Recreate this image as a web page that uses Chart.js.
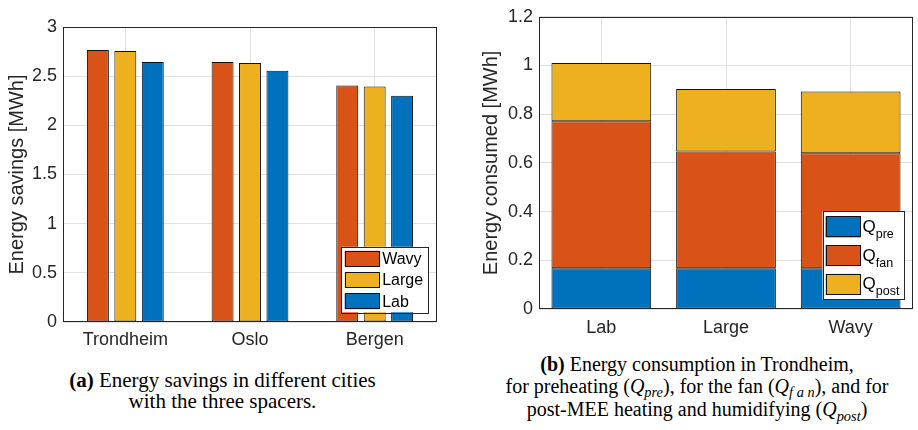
<!DOCTYPE html>
<html>
<head>
<meta charset="utf-8">
<script src="https://cdn.jsdelivr.net/npm/chart.js@4.4.1/dist/chart.umd.min.js"></script>
<style>
  html, body { margin: 0; padding: 0; background: #fff; }
  body { width: 918px; height: 430px; position: relative; overflow: hidden; }
  .panel { position: absolute; }
  .panel canvas { display: block; }
  .cap {
    position: absolute;
    font-family: "Liberation Serif", "Times New Roman", serif;
    font-size: 20px;
    line-height: 21px;
    color: #000;
    text-align: center;
    white-space: nowrap;
  }
  .cap .m { font-style: italic; }
  .cap sub { font-size: 0.72em; vertical-align: baseline; position: relative; top: 0.32em; font-style: italic; }
</style>
</head>
<body>
<div class="panel" style="left:0;top:0;"><canvas id="savings" width="450" height="355"></canvas></div>
<div class="panel" style="left:470px;top:0;"><canvas id="consumed" width="448" height="345"></canvas></div>

<div class="cap" style="left:0;width:445px;top:369.5px;font-size:21px;">
  <b>(a)</b> Energy savings in different cities<br>with the three spacers.
</div>
<div class="cap" style="left:470px;width:454px;top:354px;line-height:21.7px;">
  <b>(b)</b> Energy consumption in Trondheim,<br>
  for preheating (<span class="m">Q</span><sub>pre</sub>), for the fan (<span class="m">Q</span><sub>f a n</sub>), and for<br>
  post-MEE heating and humidifying (<span class="m">Q</span><sub>post</sub>)
</div>

<script>
// ---- (a) energy savings per city for each spacer [MWh]
const cities = ['Trondheim', 'Oslo', 'Bergen'];
const spacerNames = ['Wavy', 'Large', 'Lab'];
const wavySavings = [2.765, 2.645, 2.405];
const largeSavings = [2.755, 2.635, 2.395];
const labSavings = [2.645, 2.555, 2.300];
const savingsTicks = [0, 0.5, 1, 1.5, 2, 2.5, 3];

// ---- (b) energy consumed in Trondheim per spacer [MWh]
const spacers = ['Lab', 'Large', 'Wavy'];
const termNames = ['Q_pre', 'Q_fan', 'Q_post'];
const qPre = [0.167, 0.167, 0.167];
const qFan = [0.604, 0.480, 0.473];
const qPost = [0.239, 0.257, 0.253];
const consumedTicks = [0, 0.2, 0.4, 0.6, 0.8, 1, 1.2];

const BLUE = '#0072BD', ORANGE = '#D95319', YELLOW = '#EDB120';
const INK = '#262626', GRID = '#e1e1e1', EDGE = '#111111';
const SANS = '"Liberation Sans", Arial, Helvetica, sans-serif';

// dark frame around the plotting area
const axesBox = {
  id: 'axesBox',
  afterDatasetsDraw(chart) {
    const { ctx, chartArea: a } = chart;
    ctx.save();
    ctx.strokeStyle = INK;
    ctx.lineWidth = 1;
    ctx.strokeRect(Math.round(a.left) + 0.5, Math.round(a.top) + 0.5,
                   Math.round(a.right - a.left) - 1, Math.round(a.bottom - a.top) - 1);
    ctx.restore();
  }
};

// boxed legend in the lower-right corner; "X_sub" labels get a subscript
const boxLegend = {
  id: 'boxLegend',
  afterDraw(chart, args, o) {
    const { ctx, chartArea: a } = chart;
    const x0 = a.right - o.right - o.width;
    const y0 = a.bottom - o.bottom - o.height;
    ctx.save();
    ctx.fillStyle = '#fff';
    ctx.fillRect(x0, y0, o.width, o.height);
    ctx.strokeStyle = INK;
    ctx.lineWidth = 1;
    ctx.strokeRect(Math.round(x0) + 0.5, Math.round(y0) + 0.5, Math.round(o.width), Math.round(o.height));
    chart.data.datasets.forEach((ds, i) => {
      const sx = x0 + o.padX, sy = y0 + o.padTop + i * o.pitch;
      ctx.fillStyle = ds.backgroundColor;
      ctx.fillRect(sx, sy, o.swW, o.swH);
      ctx.strokeStyle = EDGE;
      ctx.strokeRect(Math.round(sx) + 0.5, Math.round(sy) + 0.5, Math.round(o.swW) - 1, Math.round(o.swH) - 1);
      const [main, sub] = ds.label.split('_');
      const tx = sx + o.swW + o.gap, cy = sy + o.swH / 2;
      ctx.fillStyle = '#000';
      ctx.textAlign = 'left';
      if (sub) {
        ctx.textBaseline = 'alphabetic';
        ctx.font = o.font + 'px ' + SANS;
        ctx.fillText(main, tx, cy + o.mainDrop);
        const w = ctx.measureText(main).width;
        ctx.font = o.subFont + 'px ' + SANS;
        ctx.fillText(sub, tx + w, cy + o.subDrop);
      } else {
        ctx.textBaseline = 'middle';
        ctx.font = o.font + 'px ' + SANS;
        ctx.fillText(main, tx, cy + 1);
      }
    });
    ctx.restore();
  }
};

Chart.defaults.font.family = SANS;
Chart.defaults.color = INK;

function yAxis(ticks, max, title, width, titlePad) {
  return {
    min: 0, max: max,
    afterBuildTicks: s => { s.ticks = ticks.map(v => ({ value: v })); },
    afterFit: s => { s.width = width; },
    grid: { color: GRID, drawTicks: false, lineWidth: 1 },
    border: { display: false },
    ticks: { padding: 6, font: { size: 18 }, color: INK, callback: v => String(v) },
    title: { display: true, text: title, color: INK, font: { size: 20 }, padding: { top: titlePad, bottom: 0 } }
  };
}
function xAxis(height, pad, stacked) {
  return {
    stacked: stacked,
    offset: true,
    afterFit: s => { s.height = height; },
    grid: { color: GRID, drawTicks: false, offset: false, lineWidth: 1 },
    border: { display: false },
    ticks: { padding: pad, font: { size: 18 }, color: INK, maxRotation: 0 }
  };
}
const barStyle = { borderColor: EDGE, borderWidth: 1, borderSkipped: false };

new Chart(document.getElementById('savings'), {
  type: 'bar',
  data: {
    labels: cities,
    datasets: [
      { label: spacerNames[0], data: wavySavings, backgroundColor: ORANGE, ...barStyle },
      { label: spacerNames[1], data: largeSavings, backgroundColor: YELLOW, ...barStyle },
      { label: spacerNames[2], data: labSavings, backgroundColor: BLUE, ...barStyle }
    ]
  },
  options: {
    responsive: false, animation: false,
    layout: { padding: { top: 27, right: 13, left: 0, bottom: 0 } },
    datasets: { bar: { categoryPercentage: 0.66, barPercentage: 0.8 } },
    scales: {
      x: xAxis(33, 7, false),
      y: yAxis(savingsTicks, 3, 'Energy savings [MWh]', 63, 5.5)
    },
    plugins: {
      legend: { display: false }, tooltip: { enabled: false },
      boxLegend: { right: 9.3, bottom: 9.7, width: 86.5, height: 65.5, padX: 3.5, padTop: 4,
                   swW: 35, swH: 16, pitch: 21.2, gap: 2.5, font: 16 }
    }
  },
  plugins: [axesBox, boxLegend]
});

new Chart(document.getElementById('consumed'), {
  type: 'bar',
  data: {
    labels: spacers,
    datasets: [
      { label: termNames[0], data: qPre, backgroundColor: BLUE, ...barStyle },
      { label: termNames[1], data: qFan, backgroundColor: ORANGE, ...barStyle },
      { label: termNames[2], data: qPost, backgroundColor: YELLOW, ...barStyle }
    ]
  },
  options: {
    responsive: false, animation: false,
    layout: { padding: { top: 15, right: 5, left: 0, bottom: 0 } },
    datasets: { bar: { categoryPercentage: 1.0, barPercentage: 0.8 } },
    scales: {
      x: xAxis(36, 8, true),
      y: Object.assign(yAxis(consumedTicks, 1.2, 'Energy consumed [MWh]', 69, 9), { stacked: true })
    },
    plugins: {
      legend: { display: false }, tooltip: { enabled: false },
      boxLegend: { right: 9.5, bottom: 9.3, width: 81, height: 88.3, padX: 3, padTop: 5,
                   swW: 35, swH: 21, pitch: 28.7, gap: 2, font: 17, subFont: 12.5,
                   mainDrop: 5, subDrop: 11 }
    }
  },
  plugins: [axesBox, boxLegend]
});
</script>
</body>
</html>
